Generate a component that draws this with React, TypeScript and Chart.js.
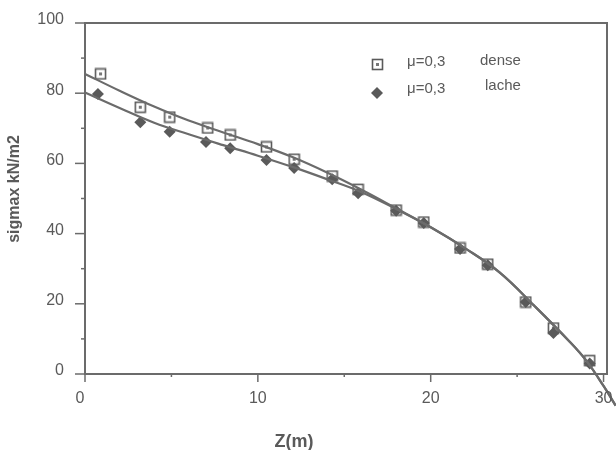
import React, { useEffect, useRef } from "react";
import { Chart, registerables } from "chart.js";
Chart.register(...registerables);

const denseZ = [0.9, 3.2, 4.9, 7.1, 8.4, 10.5, 12.1, 14.3, 15.8, 18.0, 19.6, 21.7, 23.3, 25.5, 27.1, 29.2];
const denseSig = [85.5, 76.0, 73.2, 70.1, 68.1, 64.7, 61.2, 56.4, 52.6, 46.7, 43.3, 35.9, 31.3, 20.5, 13.1, 3.8];
const lacheZ = [0.75, 3.2, 4.9, 7.0, 8.4, 10.5, 12.1, 14.3, 15.8, 18.0, 19.6, 21.7, 23.3, 25.5, 27.1, 29.2];
const lacheSig = [79.8, 71.7, 69.0, 66.1, 64.3, 61.0, 58.7, 55.5, 51.5, 46.5, 43.0, 35.6, 31.0, 20.5, 11.7, 3.0];
const fitZ = [0, 2, 4, 6, 8, 10, 12, 14, 16, 18, 20, 22, 24, 26, 28, 29, 30, 30.7];
const denseFit = [85.5, 80.7, 76.2, 72.2, 68.8, 65.5, 61.8, 57.4, 52.5, 47.2, 41.8, 35.8, 28.9, 19.4, 9.4, 3.8, -3.4, -9.0];
const lacheFit = [80.2, 75.8, 71.6, 68.3, 65.2, 62.2, 59.0, 55.5, 51.8, 47.0, 41.8, 35.8, 28.9, 19.4, 9.4, 3.8, -3.4, -9.0];
const xTicks = [0, 5, 10, 15, 20, 25, 30];
const yTicks = [0, 10, 20, 30, 40, 50, 60, 70, 80, 90, 100];
const legendMu = "\u03bc=0,3";
const legendNames = ["dense", "lache"];
const yTitle = "sigmax kN/m2";
const xTitle = "Z(m)";

const INK = "#5a5a5a";
const LINE = "#6b6b6b";
const FONT = "'Liberation Sans', Arial, sans-serif";

function makeSquareImg(): HTMLCanvasElement {
  const c = document.createElement("canvas");
  c.width = 13;
  c.height = 13;
  const g = c.getContext("2d")!;
  g.fillStyle = "#ffffff";
  g.fillRect(1, 1, 11, 11);
  g.strokeStyle = INK;
  g.lineWidth = 1.6;
  g.strokeRect(1.5, 1.5, 10, 10);
  g.fillStyle = "#777";
  g.fillRect(5, 5, 3, 3);
  return c;
}

export default function App() {
  const ref = useRef<HTMLCanvasElement | null>(null);
  useEffect(() => {
    const sq = makeSquareImg();
    const pts = (xs: number[], ys: number[]) => xs.map((x, i) => ({ x, y: ys[i] }));

    const decor = {
      id: "decor",
      afterDraw(chart: any) {
        const ctx = chart.ctx;
        const a = chart.chartArea;
        const xs = chart.scales.x;
        const ys = chart.scales.y;
        ctx.save();
        ctx.strokeStyle = LINE;
        ctx.lineWidth = 2;
        ctx.strokeRect(a.left, a.top, a.right - a.left, a.bottom - a.top);
        ctx.lineWidth = 1.5;
        ctx.fillStyle = INK;
        ctx.font = `16px ${FONT}`;
        xTicks.forEach((v) => {
          const px = xs.getPixelForValue(v);
          const major = v % 10 === 0;
          ctx.beginPath();
          ctx.moveTo(px, a.bottom);
          ctx.lineTo(px, a.bottom + (major ? 8 : 3));
          ctx.stroke();
          if (major) {
            ctx.textAlign = "center";
            ctx.textBaseline = "middle";
            ctx.fillText(String(v), px - (v === 0 ? 5 : 0), a.bottom + 25);
          }
        });
        yTicks.forEach((v) => {
          const py = ys.getPixelForValue(v);
          const major = v % 20 === 0;
          ctx.beginPath();
          ctx.moveTo(a.left, py);
          ctx.lineTo(a.left - (major ? 10 : 4), py);
          ctx.stroke();
          if (major) {
            ctx.textAlign = "right";
            ctx.textBaseline = "middle";
            ctx.fillText(String(v), a.left - 21, py - 3);
          }
        });
        // titles
        ctx.font = `bold 18px ${FONT}`;
        ctx.textAlign = "center";
        ctx.textBaseline = "middle";
        ctx.fillText(xTitle, 294, 442);
        ctx.save();
        ctx.translate(15, 189);
        ctx.rotate(-Math.PI / 2);
        ctx.font = `bold 16px ${FONT}`;
        ctx.fillText(yTitle, 0, 0);
        ctx.restore();
        // legend
        ctx.font = `15px ${FONT}`;
        ctx.textAlign = "left";
        ctx.textBaseline = "middle";
        ctx.drawImage(sq, 371, 58);
        ctx.fillText(legendMu, 407, 62);
        ctx.fillText(legendNames[0], 480, 61);
        ctx.beginPath();
        const dx = 377, dy = 93, r = 6;
        ctx.moveTo(dx, dy - r);
        ctx.lineTo(dx + r, dy);
        ctx.lineTo(dx, dy + r);
        ctx.lineTo(dx - r, dy);
        ctx.closePath();
        ctx.fillStyle = INK;
        ctx.fill();
        ctx.fillText(legendMu, 407, 89);
        ctx.fillText(legendNames[1], 485, 86);
        ctx.restore();
      },
    };

    const chart = new Chart(ref.current!, {
      type: "scatter",
      data: {
        datasets: [
          {
            label: "dense fit",
            data: pts(fitZ, denseFit),
            showLine: true,
            borderColor: LINE,
            borderWidth: 2.2,
            pointRadius: 0,
            tension: 0.4,
            clip: false as any,
          },
          {
            label: "lache fit",
            data: pts(fitZ, lacheFit),
            showLine: true,
            borderColor: LINE,
            borderWidth: 2.2,
            pointRadius: 0,
            tension: 0.4,
            clip: false as any,
          },
          {
            label: "lache",
            data: pts(lacheZ, lacheSig),
            pointStyle: "rectRot",
            pointRadius: 6,
            backgroundColor: INK,
            borderColor: INK,
            borderWidth: 0,
          },
          {
            label: "dense",
            data: pts(denseZ, denseSig),
            pointStyle: sq as any,
            pointRadius: 6,
          },
        ],
      },
      options: {
        animation: false,
        responsive: true,
        maintainAspectRatio: false,
        layout: { padding: { left: 85, top: 23, right: 9, bottom: 76 } },
        plugins: { legend: { display: false }, tooltip: { enabled: false } },
        scales: {
          x: { type: "linear", min: 0, max: 30.2, display: false },
          y: { type: "linear", min: 0, max: 100, display: false },
        },
      } as any,
      plugins: [decor],
    });
    return () => chart.destroy();
  }, []);
  return (
    <div style={{ position: "fixed", left: 0, top: 0, width: 616, height: 450, background: "#fff" }}>
      <canvas ref={ref} />
    </div>
  );
}
